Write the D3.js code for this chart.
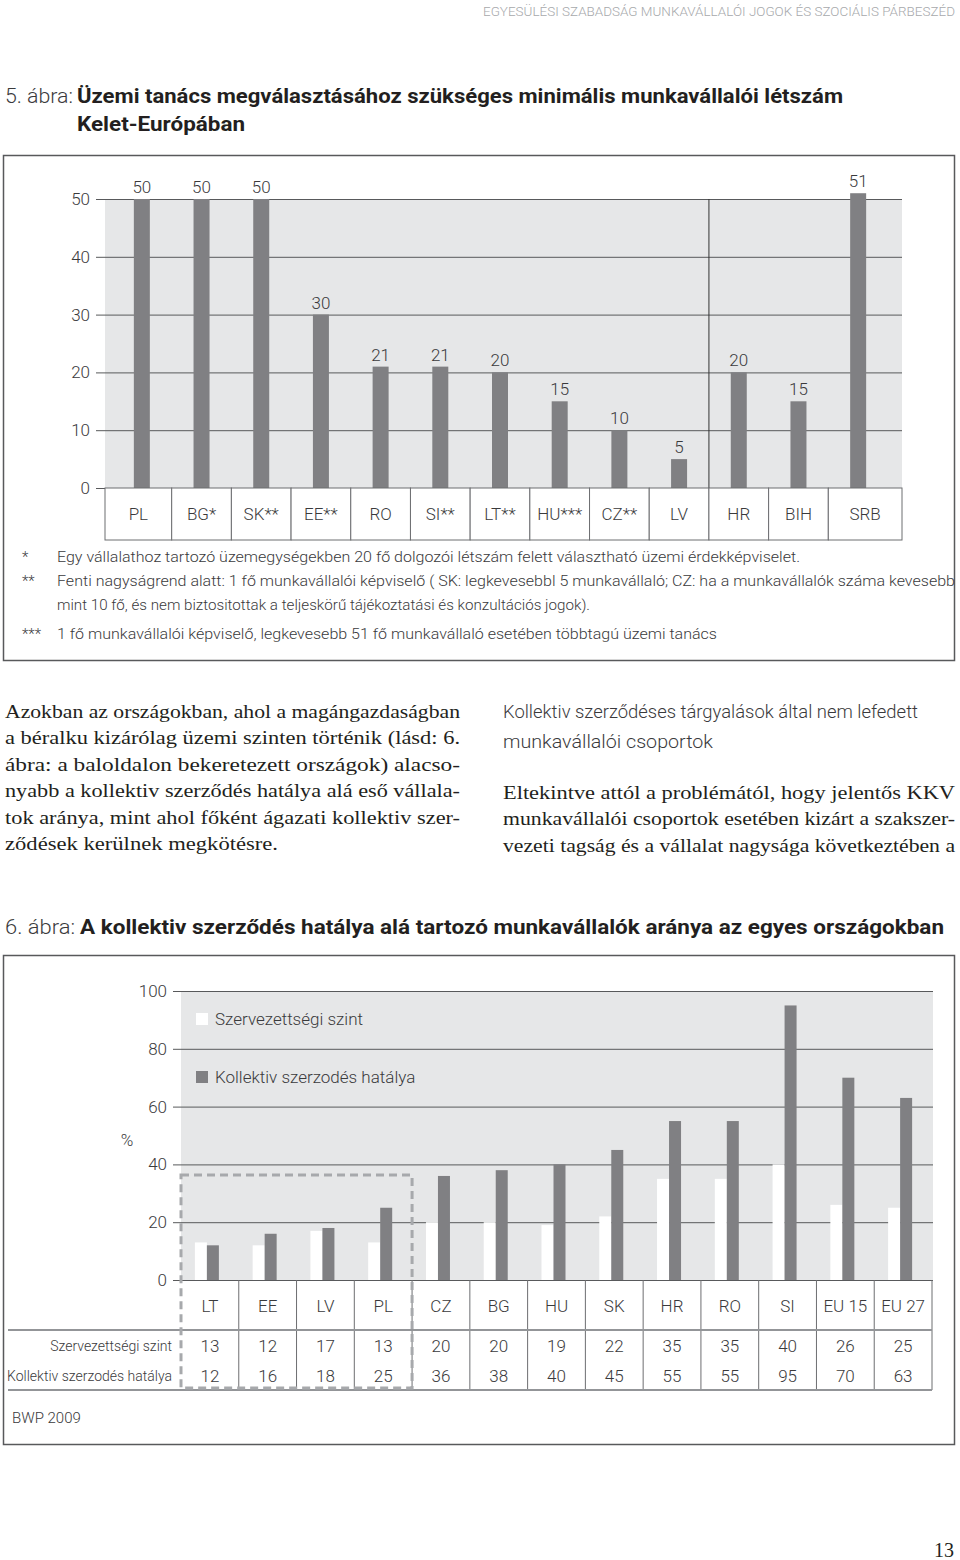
<!DOCTYPE html>
<html>
<head>
<meta charset="utf-8">
<script src="https://cdn.jsdelivr.net/npm/d3@7"></script>
<style>
  body { margin: 0; background: #fff; }
  text { fill: #3a3a3c; }
</style>
</head>
<body>
<script>
// 5. ábra data
const countries1 = ["PL", "BG*", "SK**", "EE**", "RO", "SI**", "LT**", "HU***", "CZ**", "LV", "HR", "BIH", "SRB"]
const minWorkers = [50, 50, 50, 30, 21, 21, 20, 15, 10, 5, 20, 15, 51]
const ticks1 = [0, 10, 20, 30, 40, 50]

// 6. ábra data
const countries2 = ["LT", "EE", "LV", "PL", "CZ", "BG", "HU", "SK", "HR", "RO", "SI", "EU 15", "EU 27"]
const unionDensity = [13, 12, 17, 13, 20, 20, 19, 22, 35, 35, 40, 26, 25]
const bargainCoverage = [12, 16, 18, 25, 36, 38, 40, 45, 55, 55, 95, 70, 63]
const ticks2 = [0, 20, 40, 60, 80, 100]
const seriesNames = ["Szervezettségi szint", "Kollektiv szerzodés hatálya"]

const SANS = "Roboto, 'Liberation Sans', sans-serif"
const SERIF = "'Liberation Serif', 'DejaVu Serif', serif"
const barColor = "#808083"
const plotBg = "#e6e7e8"
const gridColor = "#58595b"

const svg = d3.select("body").append("svg")
    .attr("width", 960)
    .attr("height", 1560)
    .attr("viewBox", [0, 0, 960, 1560])
    .style("font-family", SANS)
    .style("font-weight", 300)

// running header
svg.append("text")
    .attr("x", 955).attr("y", 16)
    .attr("text-anchor", "end")
    .attr("textLength", 472).attr("lengthAdjust", "spacingAndGlyphs")
    .style("font-size", "13px")
    .style("fill", "#a7a9ac")
    .text("EGYESÜLÉSI SZABADSÁG MUNKAVÁLLALÓI JOGOK ÉS SZOCIÁLIS PÁRBESZÉD")

// ---------- 5. ábra ----------
svg.append("text").attr("x", 5).attr("y", 103)
    .attr("textLength", 68).attr("lengthAdjust", "spacingAndGlyphs")
    .style("font-size", "21px").text("5. ábra:")
svg.append("text").attr("x", 77).attr("y", 103)
    .attr("textLength", 766).attr("lengthAdjust", "spacingAndGlyphs")
    .style("font-size", "21px").style("font-weight", 700).style("fill", "#231f20")
    .text("Üzemi tanács megválasztásához szükséges minimális munkavállalói létszám")
svg.append("text").attr("x", 77).attr("y", 131)
    .attr("textLength", 168).attr("lengthAdjust", "spacingAndGlyphs")
    .style("font-size", "21px").style("font-weight", 700).style("fill", "#231f20")
    .text("Kelet-Európában")

svg.append("rect")
    .attr("x", 3.5).attr("y", 155.5).attr("width", 951).attr("height", 505)
    .attr("fill", "none").attr("stroke", gridColor).attr("stroke-width", 1.5)

const plot1 = {left: 105, right: 902}
const x1 = d3.scaleBand().domain(countries1).range([112, 888])
const y1 = d3.scaleLinear().domain([0, 50]).range([488, 199])

const g1 = svg.append("g")

g1.append("rect")
    .attr("x", plot1.left).attr("y", y1(50))
    .attr("width", plot1.right - plot1.left).attr("height", y1(0) - y1(50))
    .attr("fill", plotBg)

g1.append("g")
    .attr("transform", `translate(96,0)`)
    .call(d3.axisLeft(y1).tickValues(ticks1).tickSize(-(plot1.right - 96)).tickPadding(6))
    .call(g => g.select(".domain").remove())
    .call(g => g.selectAll("line").attr("stroke", gridColor))
    .call(g => g.selectAll("text").style("font-size", "17px").style("font-family", SANS).attr("fill", "#3a3a3c"))

// divider between LV and HR
g1.append("line")
    .attr("x1", x1("HR")).attr("x2", x1("HR"))
    .attr("y1", y1(50)).attr("y2", y1(0))
    .attr("stroke", "#333").attr("stroke-width", 1)

g1.selectAll(".bar1")
    .data(countries1)
    .join("rect")
    .attr("class", "bar1")
    .attr("x", d => x1(d) + x1.bandwidth() / 2 - 8)
    .attr("width", 16)
    .attr("y", (d, i) => y1(minWorkers[i]))
    .attr("height", (d, i) => y1(0) - y1(minWorkers[i]))
    .attr("fill", barColor)

g1.selectAll(".val1")
    .data(countries1)
    .join("text")
    .attr("class", "val1")
    .attr("x", d => x1(d) + x1.bandwidth() / 2)
    .attr("y", (d, i) => y1(minWorkers[i]) - 6)
    .attr("text-anchor", "middle")
    .style("font-size", "17px")
    .text((d, i) => minWorkers[i])

// category cells
const cell1 = (d, i) => [i === 0 ? plot1.left : x1(d), i === countries1.length - 1 ? plot1.right : x1(d) + x1.bandwidth()]
g1.selectAll(".cell1")
    .data(countries1)
    .join("rect")
    .attr("class", "cell1")
    .attr("x", (d, i) => cell1(d, i)[0])
    .attr("width", (d, i) => cell1(d, i)[1] - cell1(d, i)[0])
    .attr("y", y1(0)).attr("height", 52)
    .attr("fill", "#fff").attr("stroke", "#6d6e71")

g1.selectAll(".lab1")
    .data(countries1)
    .join("text")
    .attr("class", "lab1")
    .attr("x", (d, i) => (cell1(d, i)[0] + cell1(d, i)[1]) / 2)
    .attr("y", y1(0) + 26).attr("dy", "0.35em")
    .attr("text-anchor", "middle")
    .style("font-size", "17px")
    .text(d => d)

// footnotes
const notes = [
    {mark: "*", y: 562, text: "Egy vállalathoz tartozó üzemegységekben 20 fő dolgozói létszám felett választható üzemi érdekképviselet.", w: 743},
    {mark: "**", y: 586, text: "Fenti nagyságrend alatt: 1 fő munkavállalói képviselő ( SK: legkevesebbl 5 munkavállaló;  CZ: ha a munkavállalók száma kevesebb", w: 898},
    {mark: "", y: 610, text: "mint 10 fő, és nem biztositottak a teljeskörű tájékoztatási és konzultációs jogok).", w: 533},
    {mark: "***", y: 639, text: "1 fő munkavállalói képviselő, legkevesebb 51 fő munkavállaló esetében többtagú üzemi tanács", w: 660}
]
const fn = svg.append("g").style("font-size", "15px")
fn.selectAll(".mark").data(notes).join("text")
    .attr("x", 22).attr("y", d => d.y).text(d => d.mark)
fn.selectAll(".note").data(notes).join("text")
    .attr("x", 57).attr("y", d => d.y)
    .attr("textLength", d => d.w).attr("lengthAdjust", "spacingAndGlyphs")
    .text(d => d.text)

// ---------- body text ----------
const leftLines = [
    ["Azokban az országokban, ahol a magángazdaságban", true],
    ["a béralku kizárólag üzemi szinten történik (lásd: 6.", true],
    ["ábra: a baloldalon bekeretezett országok) alacso-", true],
    ["nyabb a kollektiv szerződés hatálya alá eső vállala-", true],
    ["tok aránya, mint ahol főként ágazati kollektiv szer-", true],
    ["ződések kerülnek megkötésre.", false]
]
const rightLines = [
    ["Eltekintve attól a problémától, hogy jelentős KKV", true],
    ["munkavállalói csoportok esetében kizárt a szakszer-", true],
    ["vezeti tagság és a vállalat nagysága következtében a", true]
]
const body = svg.append("g").style("font-family", SERIF).style("font-weight", 400).style("font-size", "19px")
body.selectAll(".l").data(leftLines).join("text")
    .attr("x", 5).attr("y", (d, i) => 718 + i * 26.4)
    .attr("textLength", d => d[1] ? 455 : 273).attr("lengthAdjust", "spacingAndGlyphs")
    .style("fill", "#231f20")
    .text(d => d[0])
body.selectAll(".r").data(rightLines).join("text")
    .attr("x", 503).attr("y", (d, i) => 799 + i * 26.4)
    .attr("textLength", 452).attr("lengthAdjust", "spacingAndGlyphs")
    .style("fill", "#231f20")
    .text(d => d[0])

svg.append("text").attr("x", 503).attr("y", 718)
    .attr("textLength", 415).attr("lengthAdjust", "spacingAndGlyphs")
    .style("font-size", "19px").text("Kollektiv szerződéses tárgyalások által nem lefedett")
svg.append("text").attr("x", 503).attr("y", 748)
    .attr("textLength", 210).attr("lengthAdjust", "spacingAndGlyphs")
    .style("font-size", "19px").text("munkavállalói csoportok")

// ---------- 6. ábra ----------
svg.append("text").attr("x", 5).attr("y", 934)
    .attr("textLength", 70).attr("lengthAdjust", "spacingAndGlyphs")
    .style("font-size", "21px").text("6. ábra:")
svg.append("text").attr("x", 80).attr("y", 934)
    .attr("textLength", 864).attr("lengthAdjust", "spacingAndGlyphs")
    .style("font-size", "21px").style("font-weight", 700).style("fill", "#231f20")
    .text("A kollektiv szerződés hatálya alá tartozó munkavállalók aránya az egyes országokban")

svg.append("rect")
    .attr("x", 3.5).attr("y", 955.5).attr("width", 951).attr("height", 489)
    .attr("fill", "none").attr("stroke", gridColor).attr("stroke-width", 1.5)

const plot2 = {left: 181, right: 933}
const x2 = d3.scaleBand().domain(countries2).range([181, 932])
const y2 = d3.scaleLinear().domain([0, 100]).range([1280, 991])

const g2 = svg.append("g")
g2.append("rect")
    .attr("x", plot2.left).attr("y", y2(100))
    .attr("width", plot2.right - plot2.left).attr("height", y2(0) - y2(100))
    .attr("fill", plotBg)

g2.append("g")
    .attr("transform", `translate(173,0)`)
    .call(d3.axisLeft(y2).tickValues(ticks2).tickSize(-(plot2.right - 173)).tickPadding(6))
    .call(g => g.select(".domain").remove())
    .call(g => g.selectAll("line").attr("stroke", gridColor))
    .call(g => g.selectAll("text").style("font-size", "17px").style("font-family", SANS).attr("fill", "#3a3a3c"))

g2.append("text").attr("x", 127).attr("y", 1140).attr("dy", "0.35em")
    .attr("text-anchor", "middle").style("font-size", "17px").text("%")

const pairMid = d => x2(d) + x2.bandwidth() / 2 - 3
g2.selectAll(".barU")
    .data(countries2)
    .join("rect")
    .attr("class", "barU")
    .attr("x", d => pairMid(d) - 12)
    .attr("width", 12)
    .attr("y", (d, i) => y2(unionDensity[i]))
    .attr("height", (d, i) => y2(0) - y2(unionDensity[i]))
    .attr("fill", "#fff")
g2.selectAll(".barC")
    .data(countries2)
    .join("rect")
    .attr("class", "barC")
    .attr("x", d => pairMid(d))
    .attr("width", 12)
    .attr("y", (d, i) => y2(bargainCoverage[i]))
    .attr("height", (d, i) => y2(0) - y2(bargainCoverage[i]))
    .attr("fill", barColor)

// legend
const legend = g2.selectAll(".leg")
    .data(seriesNames)
    .join("g")
    .attr("transform", (d, i) => `translate(196,${1013 + i * 58})`)
legend.append("rect")
    .attr("width", 12).attr("height", 12)
    .attr("fill", (d, i) => i === 0 ? "#fff" : barColor)
legend.append("text")
    .attr("x", 19).attr("y", 6).attr("dy", "0.35em")
    .style("font-size", "17px")
    .text(d => d)

// data table
const rowY = [1280, 1330, 1360, 1390]
const table = g2.append("g")
table.selectAll(".vline")
    .data(countries2.slice(1))
    .join("line")
    .attr("x1", d => x2(d)).attr("x2", d => x2(d))
    .attr("y1", rowY[0]).attr("y2", rowY[3])
    .attr("stroke", "#6d6e71")
table.append("line")
    .attr("x1", x2.range()[1]).attr("x2", x2.range()[1])
    .attr("y1", rowY[0]).attr("y2", rowY[3])
    .attr("stroke", "#6d6e71")
table.selectAll(".hline")
    .data([rowY[1], rowY[3]])
    .join("line")
    .attr("x1", 8).attr("x2", x2.range()[1])
    .attr("y1", d => d).attr("y2", d => d)
    .attr("stroke", "#939598").attr("stroke-width", 2)

table.selectAll(".lab2")
    .data(countries2)
    .join("text")
    .attr("x", d => x2(d) + x2.bandwidth() / 2)
    .attr("y", 1306).attr("dy", "0.35em")
    .attr("text-anchor", "middle")
    .style("font-size", "17px")
    .text(d => d)

const rows = [unionDensity, bargainCoverage]
rows.forEach((vals, r) => {
    const cy = (rowY[r + 1] + rowY[r + 2]) / 2 + 1
    table.append("text")
        .attr("x", 172).attr("y", cy).attr("dy", "0.35em")
        .attr("text-anchor", "end")
        .style("font-size", "14px")
        .text(seriesNames[r])
    table.selectAll(".row" + r)
        .data(countries2)
        .join("text")
        .attr("x", d => x2(d) + x2.bandwidth() / 2)
        .attr("y", cy).attr("dy", "0.35em")
        .attr("text-anchor", "middle")
        .style("font-size", "17px")
        .text((d, i) => vals[i])
})

// dashed frame round the left group
g2.append("rect")
    .attr("x", x2("LT")).attr("y", 1175)
    .attr("width", x2("CZ") - x2("LT")).attr("height", 1388 - 1175)
    .attr("fill", "none")
    .attr("stroke", "#a7a9ac").attr("stroke-width", 3)
    .attr("stroke-dasharray", "8 5")

svg.append("text").attr("x", 12).attr("y", 1418).attr("dy", "0.35em")
    .style("font-size", "15px").text("BWP 2009")

svg.append("text").attr("x", 954).attr("y", 1550).attr("dy", "0.35em")
    .attr("text-anchor", "end")
    .style("font-family", SERIF).style("font-weight", 400).style("font-size", "20px")
    .style("fill", "#231f20")
    .text("13")
</script>
</body>
</html>
